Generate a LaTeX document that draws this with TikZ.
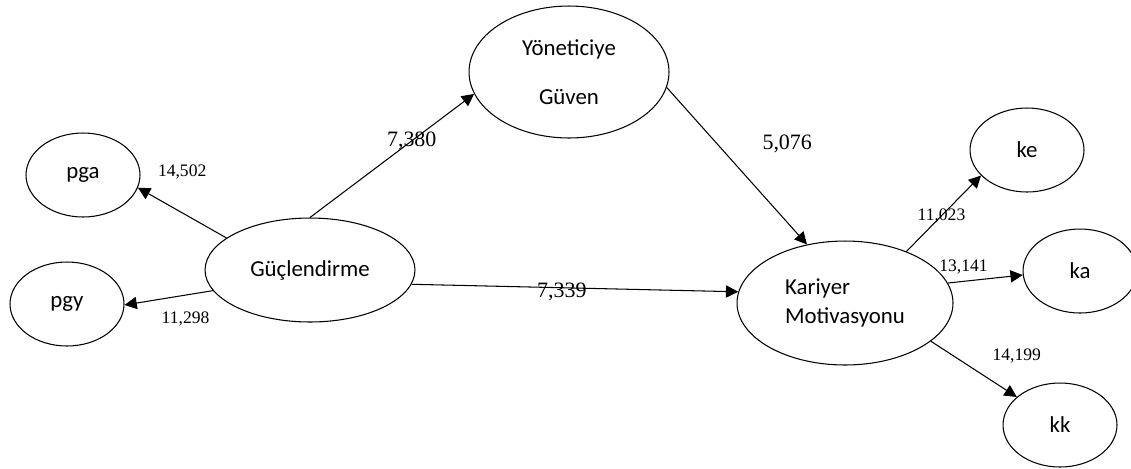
\documentclass[tikz,border=0pt]{standalone}
\usepackage{fontspec}
\setmainfont{Liberation Serif}
\newfontfamily\calibri{Carlito}
\usetikzlibrary{shapes.geometric,arrows.meta}

\begin{document}
\begin{tikzpicture}[x=0.02cm,y=-0.02cm,line width=0.6pt]

        \useasboundingbox (0,0) rectangle (1131,468);

        \begin{scope}[every node/.style={ellipse,draw,inner sep=0pt,minimum width=2.28cm,minimum height=1.68cm,font=\calibri\fontsize{13}{16}\selectfont}]
          \node (pga) at (83,175)  {pga};
          \node (pgy) at (67,304)  {pgy};
          \node[minimum width=4.2cm,minimum height=2.08cm] (guc) at (310,270) {Güçlendirme};
          \node[minimum width=4cm,minimum height=2.64cm,align=center] (yon) at (569,72) {Yöneticiye\\[12pt]Güven};
          \node[minimum width=4.32cm,minimum height=2.48cm,align=left] (kar) at (845,303) {Kariyer\\Motivasyonu};
          \node (ke)  at (1027,150) {ke};
          \node (ka)  at (1080,271) {ka};
          \node (kk)  at (1060,425) {kk};
        \end{scope}

        \begin{scope}[every node/.style={font=\fontsize{10}{12}\selectfont}, >={Triangle[length=7pt,width=7pt]}]

          \begin{scope}[every edge/.style={draw,->}]
            \path (guc.159) edge node[yshift=0.82cm] {14,502} (pga.-13);
            \path (guc.192) edge node[pos=.31,yshift=-0.48cm] {11,298} (pgy.-1);
            \path (kar.40)  edge node[pos=.47] {11,023} (ke.209);
            \path (kar.11)  edge node[pos=.21,yshift=0.29cm] {13,141} (ka.184);
            \path (kar.-24) edge node[xshift=0.86cm,yshift=0.26cm] {14,199} (kk.147);
          \end{scope}

          \begin{scope}[every edge/.style={draw,->}, every node/.style={font=\fontsize{12.5}{15}\selectfont}]
            \path (guc.90)  edge node[pos=.62] {7,380} (yon.193);
            \path (yon.-9)  edge node[pos=.36,xshift=1.4cm] {5,076} (kar.123);
            \path (guc.-8)  edge node[pos=.46,yshift=-0.08cm] {7,339} (kar.174);
          \end{scope}
        \end{scope}

      \end{tikzpicture}
\end{document}
